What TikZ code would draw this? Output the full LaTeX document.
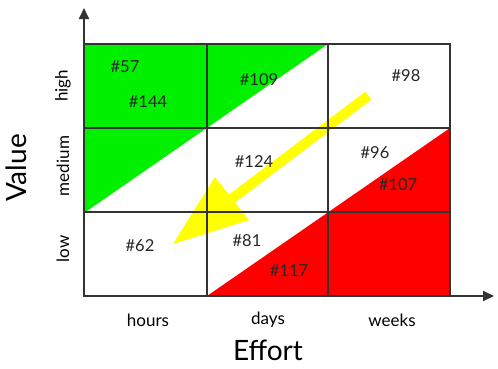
\documentclass[tikz,border=0pt]{standalone}
\usepackage{fontspec}
\setmainfont{Lato}
\usetikzlibrary{arrows.meta}
\definecolor{gridc}{HTML}{333333}
\definecolor{grn}{HTML}{00F000}
\definecolor{rd}{HTML}{FF0000}
\definecolor{yel}{HTML}{FFFF00}
\begin{document}
\begin{tikzpicture}[x=1pt,y=-1pt,
  lbl/.style={font=\fontsize{16.5}{18}\selectfont, text=black!85, inner sep=0pt},
  tick/.style={font=\fontsize{17}{18}\selectfont, text=black, inner sep=0pt},
  axtitle/.style={font=\fontsize{28}{30}\selectfont, text=black, inner sep=0pt},
  gridline/.style={draw=gridc, line width=1.8pt},
  axis/.style={draw=gridc, line width=1.8pt, -{Triangle[length=11pt,width=10pt]}}]
\useasboundingbox (0,0) rectangle (498,368);
% coloured triangles
\fill[grn] (84,44) -- (328,44) -- (84,213) -- cycle;
\fill[rd] (450,128) -- (450,296) -- (207,296) -- cycle;
% yellow arrow
\fill[yel] (365.4,91.6) -- (371.4,99.6) -- (235.0,202.5) -- (249,220) -- (173,244) -- (215,177) -- (229.0,194.5) -- cycle;
% grid
\coordinate (tl) at (84,44);
\coordinate (br) at (450,296);
\draw[gridline] (tl) rectangle (br);
\draw[gridline] (207,44) -- (207,296);
\draw[gridline] (328,44) -- (328,296);
\draw[gridline] (84,128) -- (450,128);
\draw[gridline] (84,212) -- (450,212);
% axes
\coordinate (o) at (84,296);
\coordinate (ytip) at (84,8);
\coordinate (xtip) at (494,296);
\draw[axis] (o) -- (ytip);
\draw[axis] (o) -- (xtip);
% cell labels
\node[lbl] (n57) at (125,67) {\#57};
\node[lbl] (n144) at (148,102) {\#144};
\node[lbl] (n109) at (259,80) {\#109};
\node[lbl] (n98) at (406,76) {\#98};
\node[lbl] (n124) at (254,162) {\#124};
\node[lbl] (n96) at (375,153) {\#96};
\node[lbl] (n107) at (398,185) {\#107};
\node[lbl] (n62) at (140,246) {\#62};
\node[lbl] (n81) at (247,241) {\#81};
\node[lbl] (n117) at (289,271) {\#117};
% ticks
\node[tick] (hours) at (148,320) {hours};
\node[tick] (days) at (268,320) {days};
\node[tick] (weeks) at (392,320) {weeks};
\node[tick, rotate=90] (high) at (63,86) {high};
\node[tick, rotate=90] (medium) at (63,166) {medium};
\node[tick, rotate=90] (low) at (63,249) {low};
% titles
\node[axtitle] (effort) at (268,350) {Effort};
\node[axtitle, rotate=90] (value) at (16,168) {Value};
\end{tikzpicture}
\end{document}
